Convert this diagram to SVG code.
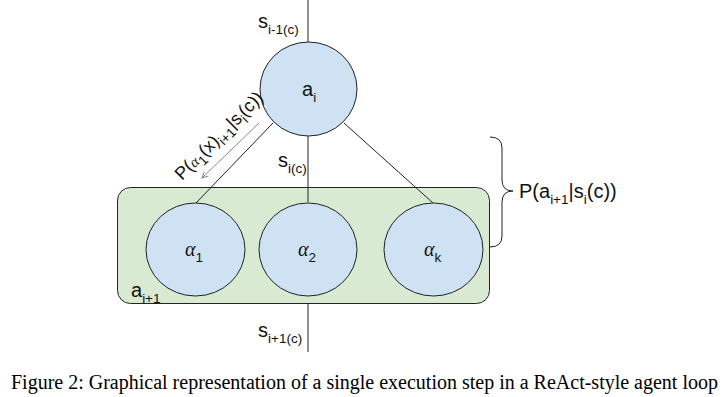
<svg xmlns="http://www.w3.org/2000/svg" width="725" height="397" viewBox="0 0 725 397">
<style>
.t{font-family:"Liberation Sans",Arial,sans-serif;fill:#111}
.big{font-size:20px}
.sub{font-size:13.5px}
.al{font-family:"Liberation Serif","Times New Roman",serif;font-style:italic}
.node{fill:#cfe2f3;stroke:#222;stroke-width:1}
.ln{stroke:#222;stroke-width:1;fill:none}
.cap{font-family:"Liberation Serif","Times New Roman",serif;font-size:20px;fill:#000}
</style>
<defs>
<marker id="ah" markerWidth="8" markerHeight="8" refX="6" refY="4" orient="auto" markerUnits="userSpaceOnUse">
<path d="M0,1 L6,4 L0,7" fill="none" stroke="#888" stroke-width="1"/>
</marker>
</defs>
<rect width="725" height="397" fill="#fff"/>
<g id="group-a-next">
<rect x="117.5" y="187.5" width="372" height="116" rx="13" fill="#d9ead3" stroke="#222" stroke-width="1"/>
<text class="t big" x="131" y="297">a<tspan class="sub" dy="6">i+1</tspan></text>
</g>
<g id="connectors">
<line class="ln" x1="308" y1="0" x2="308" y2="42"/>
<line class="ln" x1="308" y1="136" x2="308" y2="202"/>
<line class="ln" x1="273" y1="123" x2="196" y2="203"/>
<line class="ln" x1="344" y1="123" x2="433" y2="203"/>
<line class="ln" x1="308" y1="304" x2="308" y2="352"/>
<line x1="259" y1="123" x2="202" y2="178" stroke="#888" stroke-width="1" marker-end="url(#ah)"/>
<path class="ln" d="M490,137 Q502,137 502,148 L502,180 Q502,191 513,191 Q502,191 502,202 L502,236 Q502,247 490,247"/>
</g>
<g id="node-ai">
<ellipse class="node" cx="308.5" cy="89" rx="48.5" ry="47"/>
<text class="t big" x="302" y="96">a<tspan class="sub" dy="6">i</tspan></text>
</g>
<g id="node-alpha1">
<ellipse class="node" cx="195.5" cy="249.5" rx="49.5" ry="46.5"/>
<text class="t big" x="185" y="256"><tspan class="al">α</tspan><tspan class="sub" dy="6">1</tspan></text>
</g>
<g id="node-alpha2">
<ellipse class="node" cx="308" cy="249.5" rx="49" ry="46.5"/>
<text class="t big" x="298" y="256"><tspan class="al">α</tspan><tspan class="sub" dy="6">2</tspan></text>
</g>
<g id="node-alphak">
<ellipse class="node" cx="433.5" cy="249.5" rx="49.5" ry="46.5"/>
<text class="t big" x="424" y="256"><tspan class="al">α</tspan><tspan class="sub" dy="6">k</tspan></text>
</g>
<g id="labels">
<text class="t big" x="258" y="28">s<tspan class="sub" dy="6">i-1(c)</tspan></text>
<text class="t big" x="278" y="167">s<tspan class="sub" dy="6">i(c)</tspan></text>
<text class="t big" x="258" y="337">s<tspan class="sub" dy="6">i+1(c)</tspan></text>
<text class="t big" x="519" y="198">P(a<tspan class="sub" dy="6">i+1</tspan><tspan dy="-6">|s</tspan><tspan class="sub" dy="6">i</tspan><tspan dy="-6">(c))</tspan></text>
<text class="t" font-size="18" transform="translate(182,181) rotate(-45)">P(<tspan class="al" font-size="15">α</tspan><tspan class="sub" font-size="11" dy="5">1</tspan><tspan dy="-5">(x)</tspan><tspan class="sub" font-size="11" dy="5">i+1</tspan><tspan dy="-5">|s</tspan><tspan class="sub" font-size="11" dy="5">i</tspan><tspan dy="-5">(c))</tspan></text>
</g>
<text class="cap" x="11" y="389" textLength="707" lengthAdjust="spacingAndGlyphs">Figure 2: Graphical representation of a single execution step in a ReAct-style agent loop</text>
</svg>
